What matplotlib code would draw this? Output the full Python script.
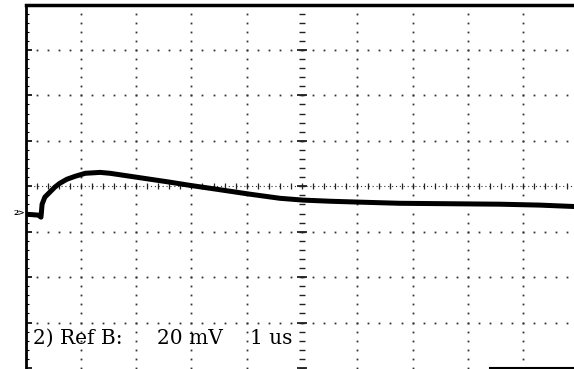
import numpy as np
import matplotlib
matplotlib.use("Agg")
import matplotlib.pyplot as plt

# ---- data ----
time_us = [0.0, 0.23, 0.28, 0.30, 0.35, 0.44, 0.53, 0.62, 0.75, 0.90, 1.08, 1.35,
           1.53, 1.89, 2.25, 2.61, 2.97, 3.34, 4.06, 4.60, 5.02, 5.51, 6.05, 6.77,
           7.68, 8.58, 9.30, 10.0]
volt_mV = [-12.3, -12.7, -13.6, -7.9, -4.8, -2.6, -0.4, 1.3, 3.1, 4.4, 5.7, 6.1,
           5.7, 4.4, 3.1, 1.8, 0.4, -0.9, -3.5, -5.3, -6.1, -6.6, -7.0, -7.5,
           -7.7, -7.9, -8.3, -9.0]
channel = "2"
label_ref = "2) Ref B:"
label_volt = "20 mV"
label_time = "1 us"
mv_per_div = 20
n_xdiv = 10
n_ydiv = 8

fig = plt.figure(figsize=(5.74, 3.69), dpi=100)
ax = fig.add_axes([25.5 / 574, 1.0 / 369, 553 / 574, 363.5 / 369])
ymax = mv_per_div * n_ydiv / 2
ax.set_xlim(0, n_xdiv)
ax.set_ylim(-ymax, ymax)

dot_kw = dict(linestyle="none", marker="s", markersize=1.3, mew=0, color="#333333")
minor_x = np.arange(0, n_xdiv + 1e-9, 0.2)
minor_y = np.arange(-ymax, ymax + 1e-9, mv_per_div / 5)

# dotted grid
for k in range(1, n_xdiv):
    if k == n_xdiv // 2:
        continue
    ax.plot(np.full_like(minor_y, k), minor_y, **dot_kw)
for k in range(-n_ydiv // 2 + 1, n_ydiv // 2):
    if k == 0:
        continue
    ax.plot(minor_x, np.full_like(minor_x, k * mv_per_div), **dot_kw)

# center axes with ticks
ax.axhline(0, color="#333333", lw=0.8, linestyle=(0, (1, 2.5)))
ax.plot(minor_x, np.zeros_like(minor_x), linestyle="none", marker="|",
        markersize=4, mew=0.9, color="#222222")
ax.plot(np.full_like(minor_y, n_xdiv / 2), minor_y, linestyle="none", marker="_",
        markersize=4.5, mew=1.0, color="#222222")
major_y = np.arange(-ymax, ymax + 1e-9, mv_per_div)
ax.plot(np.full_like(major_y, n_xdiv / 2), major_y, linestyle="none", marker="_",
        markersize=7, mew=1.3, color="#222222")

# trace
ax.plot(time_us, volt_mV, color="black", lw=3.6, solid_joinstyle="round")

# frame
ax.spines["right"].set_visible(False)
ax.spines["left"].set_linewidth(2.0)
ax.spines["top"].set_linewidth(2.5)
ax.spines["bottom"].set_linewidth(1.5)
ax.spines["bottom"].set_bounds(8.4, n_xdiv)
ax.set_xticks([])
ax.set_yticks(major_y)
ax.set_yticks(minor_y, minor=True)
ax.tick_params(axis="y", which="major", direction="in", length=4, width=1.2,
               labelleft=False)
ax.tick_params(axis="y", which="minor", direction="in", length=2, width=0.8)

# texts
serif = ["DejaVu Serif"]
tkw = dict(transform=ax.transAxes, fontsize=14.5, family=serif,
           va="baseline", ha="left")
base = (368 - 344) / 363.5
ax.text((33 - 25.5) / 553, base, label_ref, **tkw)
ax.text((157 - 25.5) / 553, base, label_volt, **tkw)
ax.text((250 - 25.5) / 553, base, label_time, **tkw)
fig.text(13 / 574, 1 - 213 / 369, channel + ">", fontsize=5.5, family=serif,
         va="center", ha="left", weight="bold")

fig.savefig("out.png", dpi=100, facecolor="white")
